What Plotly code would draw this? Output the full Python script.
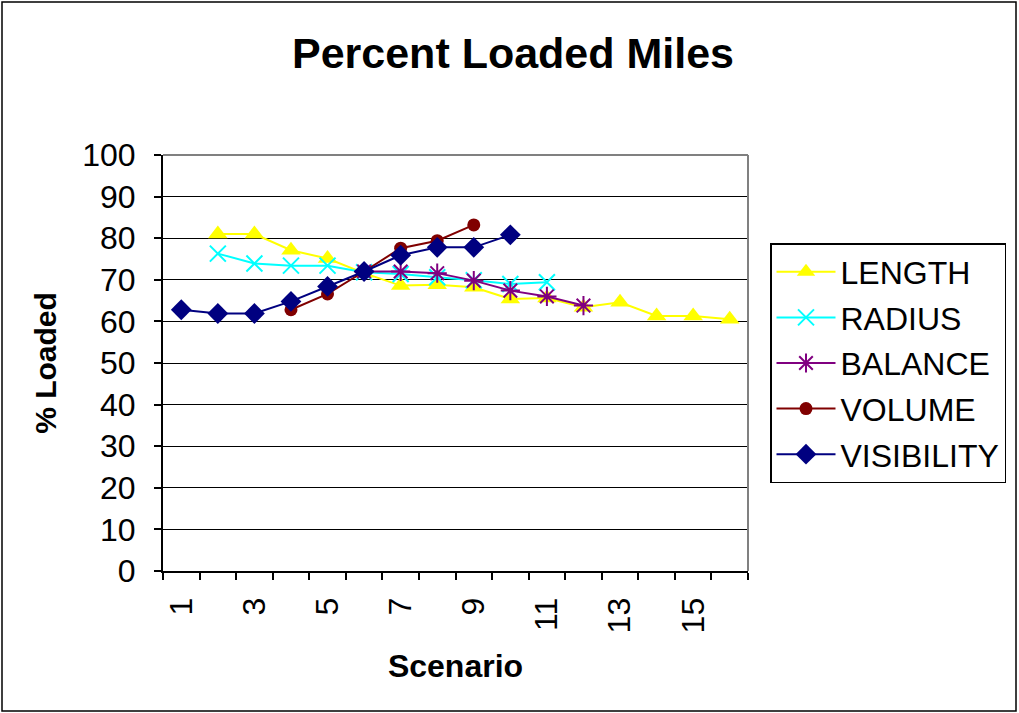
import plotly.graph_objects as go

scenarios = list(range(1, 17))

length = [None, 81.0, 81.0, 77.1, 75.1, 71.6, 68.6, 68.8, 68.2, 65.4, 65.6, 63.4, 64.6, 61.3, 61.3, 60.5]
radius = [None, 76.3, 73.9, 73.4, 73.4, 71.8, 71.4, 70.6, 69.9, 69.0, 69.4, None, None, None, None, None]
balance = [None, None, None, None, None, 72.0, 72.0, 71.6, 69.8, 67.4, 66.0, 63.8, None, None, None, None]
volume = [None, None, None, 62.8, 66.6, 72.0, 77.6, 79.4, 83.2, None, None, None, None, None, None, None]
visibility = [62.8, 61.9, 61.9, 64.8, 68.4, 72.0, 75.9, 77.8, 77.8, 80.8, None, None, None, None, None, None]

y_ticks = list(range(0, 101, 10))
x_tick_vals = [1, 3, 5, 7, 9, 11, 13, 15]
x_tick_text = ["1", "3", "5", "7", "9", "11", "13", "15"]

series = [
    ("LENGTH", length, "#FFFF00", "triangle-up", 17, 0),
    ("RADIUS", radius, "#00FFFF", "x-thin", 16, 2),
    ("BALANCE", balance, "#800080", "asterisk", 16, 2),
    ("VOLUME", volume, "#800000", "circle", 13, 0),
    ("VISIBILITY", visibility, "#000080", "diamond", 16, 0),
]

fig = go.Figure()
for i, (name, vals, color, sym, size, lw) in enumerate(series):
    fig.add_trace(go.Scatter(
        x=scenarios, y=vals, name=name, mode="lines+markers",
        line=dict(color=color, width=2),
        marker=dict(symbol=sym, size=size, color=color,
                    line=dict(color=color, width=lw)),
        legendgroup=f"g{i}", connectgaps=False,
    ))

FONT = "Arial, Liberation Sans, sans-serif"
L, R, T, B = 163, 748, 155, 571
W, H = 1019, 713
pw, ph = R - L, B - T

def px(x):
    return (x - L) / pw

def py(y):
    return (B - y) / ph

fig.update_layout(
    width=W, height=H,
    margin=dict(l=L, r=W - R, t=T, b=H - B, autoexpand=False),
    paper_bgcolor="white", plot_bgcolor="white",
    font=dict(family=FONT, color="black"),
    title=dict(text="<b>Percent Loaded Miles</b>", x=513 / W, xanchor="center",
               y=1 - 53 / H, yanchor="middle", font=dict(size=43, family=FONT)),
    legend=dict(x=px(770), xanchor="left", y=py(243), yanchor="top",
                bordercolor="black", borderwidth=1.5, bgcolor="white",
                font=dict(size=32, family=FONT), traceorder="grouped",
                tracegroupgap=1, itemwidth=59),
    xaxis=dict(range=[0.5, 16.5], tickmode="array", tickvals=x_tick_vals, ticktext=x_tick_text,
               tickangle=-90, ticks="", showgrid=False, zeroline=False,
               showline=True, linecolor="black", linewidth=2,
               tickfont=dict(size=32, family=FONT), ticklabelstandoff=12,
               minor=dict(tickmode="array", tickvals=[0.5 + k for k in range(17)],
                          ticks="outside", ticklen=7, tickcolor="black", tickwidth=2, showgrid=False),
               title=dict(text="<b>Scenario</b>", font=dict(size=32, family=FONT), standoff=22)),
    yaxis=dict(range=[0, 100], tickmode="array", tickvals=y_ticks,
               ticks="outside", ticklen=7, tickcolor="black", tickwidth=2,
               showgrid=True, gridcolor="black", gridwidth=1, zeroline=False,
               showline=True, linecolor="black", linewidth=2,
               tickfont=dict(size=32, family=FONT), ticklabelstandoff=12,
               title=dict(text="<b>% Loaded</b>", font=dict(size=30, family=FONT), standoff=17)),
    shapes=[
        dict(type="line", xref="paper", yref="paper", x0=0, x1=1, y0=1, y1=1,
             line=dict(color="#808080", width=2)),
        dict(type="line", xref="paper", yref="paper", x0=1, x1=1, y0=0, y1=1,
             line=dict(color="#808080", width=2)),
        dict(type="rect", xref="paper", yref="paper",
             x0=px(2), x1=px(1016), y0=py(711), y1=py(2),
             line=dict(color="black", width=1.5)),
    ],
)

fig.write_html("out.html")
